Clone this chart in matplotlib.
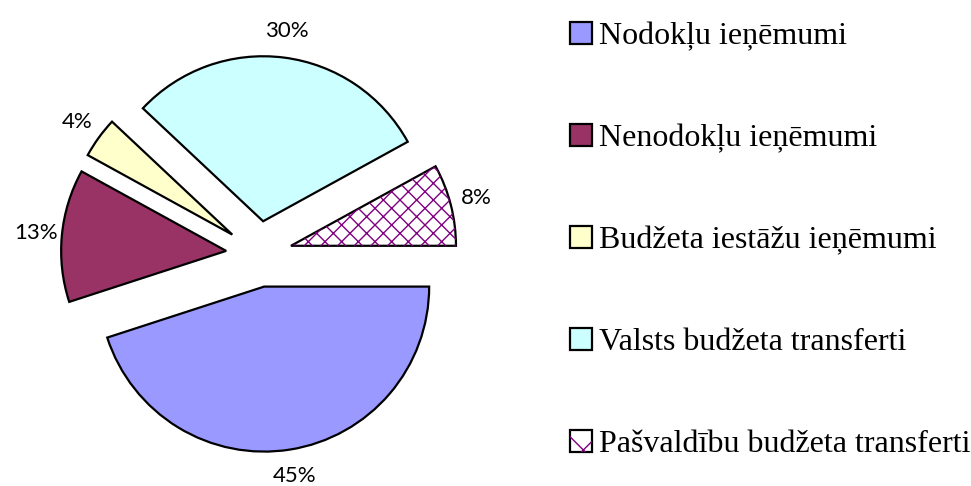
import matplotlib.pyplot as plt
from matplotlib.patches import Wedge, Patch

labels = ['Nodokļu ieņēmumi', 'Nenodokļu ieņēmumi', 'Budžeta iestāžu ieņēmumi',
          'Valsts budžeta transferti', 'Pašvaldību budžeta transferti']
values = [45, 13, 4, 30, 8]
colors = ['#9999FF', '#993366', '#FFFFCC', '#CCFFFF', '#FFFFFF']
hatch_color = '#800080'

fig = plt.figure(figsize=(9.71, 4.86), dpi=100)
ax = fig.add_axes([0, 0, 540 / 971, 1])

wedges, texts, autotexts = ax.pie(
    values, colors=colors, startangle=0, counterclock=False,
    explode=[0.2] * len(values), autopct='%1.0f%%', pctdistance=1.16,
    wedgeprops=dict(edgecolor='black', linewidth=1.6),
    textprops=dict(fontsize=16, family='Lato'))

# purple hatch on the last slice, black outline kept from the wedge itself
w = wedges[-1]
ax.add_patch(Wedge(w.center, w.r, w.theta1, w.theta2, facecolor='none',
                   edgecolor=hatch_color, hatch='xx', linewidth=0))

ax.set_xlim(-259 / 165, 281 / 165)
ax.set_ylim(-232 / 165, 254 / 165)
ax.set_aspect('auto')
ax.axis('off')

handles = [Patch(facecolor=c, edgecolor='black', linewidth=1.6) for c in colors[:-1]]
handles.append((Patch(facecolor='white', edgecolor='black', linewidth=1.6),
                Patch(facecolor='none', edgecolor=hatch_color, hatch='x', linewidth=0)))

fig.legend(handles, labels, loc='upper left', bbox_to_anchor=(570 / 971, 1 - 22 / 486),
           frameon=False, prop=dict(family='Liberation Serif', size=23),
           handlelength=0.68, handleheight=0.68, handletextpad=0.22,
           labelspacing=2.28, borderpad=0, borderaxespad=0)

fig.savefig('out.png', dpi=100)
